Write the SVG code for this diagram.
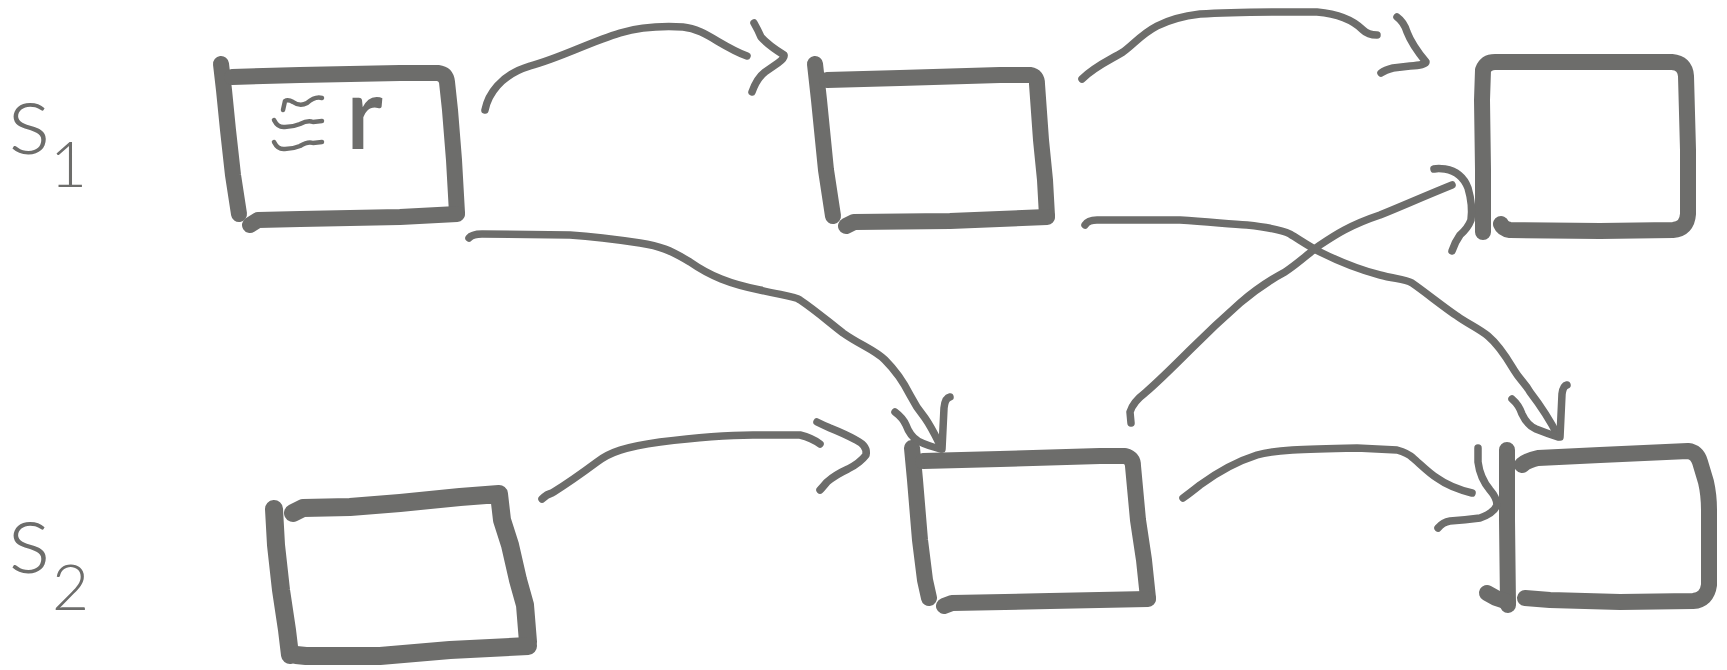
<svg xmlns="http://www.w3.org/2000/svg" width="1727" height="670" viewBox="0 0 1727 670">
<style>
.bx{fill:none;stroke:#6d6d6b;stroke-width:16;stroke-linecap:round;stroke-linejoin:round}
.bxd{fill:none;stroke:#6d6d6b;stroke-width:18;stroke-linecap:round;stroke-linejoin:round}
.cn{fill:none;stroke:#6d6d6b;stroke-width:7.5;stroke-linecap:round;stroke-linejoin:round}
.sq{fill:none;stroke:#6d6d6b;stroke-width:4.5;stroke-linecap:round;stroke-linejoin:round}
.lbl{font-family:Lato,"Open Sans","DejaVu Sans",sans-serif;font-weight:300;fill:#6d6d6b}
.tx{font-family:Lato,"Open Sans","DejaVu Sans",sans-serif;font-weight:600;fill:#6d6d6b}
</style>
<rect width="1727" height="670" fill="#ffffff"/>
<g id="label-s1"><text class="lbl" x="8" y="154" font-size="100">s<tspan x="50" y="187" font-size="64">1</tspan></text></g>
<g id="label-s2"><text class="lbl" x="8" y="573" font-size="100">s<tspan x="52" y="610" font-size="64">2</tspan></text></g>
<g id="node-a">
<path class="bx" d="M221,64 L224,90 L228,130 L233,175 L239,214"/>
<path class="bx" d="M232,77 L300,75 L400,73 L438,73 Q446,74 447,82 L450,110 L454,160 L457,213"/>
<path class="bx" d="M250,225 L258,220 L300,219 L400,217 L457,214"/>
<path class="sq" d="M283,110 L285,101 Q288,99 293,102 Q300,107 307,103 Q315,96 322,98"/>
<path class="sq" d="M274,120 Q278,128 285,127 Q293,127 300,124 Q308,120 313,122 L322,121"/>
<path class="sq" d="M274,142 Q278,150 285,149 Q293,149 300,146 Q308,141 313,143 L322,142"/>
<text class="tx" x="346" y="149" font-size="100">r</text>
</g>
<g id="node-b">
<path class="bx" d="M815,64 L819,100 L826,170 L833,216"/>
<path class="bx" d="M827,80 L900,78 L1000,75 L1030,75 Q1037,76 1037,84 L1041,140 L1045,180 L1047,216"/>
<path class="bx" d="M846,226 L854,222 L950,221 L1047,217"/>
</g>
<g id="node-c">
<path class="bx" d="M1483,232 L1483,170 L1482,100 L1483,70 Q1486,62 1495,62 L1600,62 L1672,62 Q1685,63 1686,76 L1688,150 L1688,214 Q1687,229 1673,230 L1600,231 L1510,230 Q1503,229 1501,224"/>
</g>
<g id="node-d">
<path class="bxd" d="M274,509 L276,545 L281,590 L287,630 L290,655"/>
<path class="bxd" d="M293,513 L303,508 L350,507 L400,503 L460,497 L499,494 L502,520 L510,545 L518,580 L525,605 L528,642"/>
<path class="bxd" d="M296,655 L306,656 L380,656 L450,650 L528,646"/>
</g>
<g id="node-e">
<path class="bx" d="M912,448 L915,480 L920,540 L925,580 L929,598"/>
<path class="bx" d="M923,461 L1000,459 L1100,456 L1125,456 Q1133,458 1133,466 L1138,520 L1144,560 L1148,598"/>
<path class="bx" d="M944,606 L952,603 L1050,601 L1148,599"/>
</g>
<g id="node-f">
<path class="bx" d="M1507,450 L1507,520 L1508,605"/>
<path class="bx" d="M1522,465 Q1528,460 1538,458 L1600,455 L1688,451 Q1697,452 1700,462 L1706,482 Q1709,495 1709,510 L1709,585 Q1707,600 1693,601 L1620,602 L1550,600 L1525,598"/>
<path class="bx" d="M1487,593 L1496,598 L1508,602"/>
</g>
<g id="connectors">
<path class="cn" d="M485,110 C488,95 500,75 530,66 C560,58 590,42 620,33 C640,27 665,26 683,27 C705,29 720,46 747,56"/>
<path class="cn" d="M754,23 Q758,30 761,37 Q768,45 784,55 Q785,58 778,63 L765,72 Q757,78 752,92"/>
<path class="cn" d="M1082,79 C1095,66 1110,60 1123,52 C1140,40 1150,20 1200,14 C1240,11 1290,12 1317,12 C1340,14 1355,22 1363,30 C1367,34 1372,35 1377,35"/>
<path class="cn" d="M1397,17 Q1404,22 1407,32 Q1412,45 1426,62 Q1426,65 1410,66 L1393,68 Q1385,70 1381,73"/>
<path class="cn" d="M469,238 Q472,234 482,234 L570,235 C600,237 620,240 640,243 C660,246 670,250 690,262 C710,276 730,284 760,290 C780,295 795,296 800,300 C815,310 830,323 843,333 C860,345 875,350 885,360 C895,370 905,385 910,395 C915,405 920,412 925,418 C932,428 936,437 941,447"/>
<path class="cn" d="M895,412 Q903,418 906,425 Q910,436 918,441 Q928,446 941,449"/>
<path class="cn" d="M950,397 Q945,398 944,408 L942,449"/>
<path class="cn" d="M1085,225 Q1088,220 1097,220 L1180,220 C1210,222 1230,224 1247,225 C1265,227 1280,229 1290,234 C1300,240 1310,247 1320,252 C1340,262 1360,270 1380,275 C1395,279 1405,279 1412,283 C1425,292 1445,308 1457,316 C1468,324 1478,328 1488,336 C1500,346 1508,360 1514,370 C1520,380 1525,383 1530,392 C1540,405 1550,420 1558,436"/>
<path class="cn" d="M1512,399 Q1519,405 1522,414 Q1527,425 1536,429 Q1546,433 1558,437"/>
<path class="cn" d="M1567,385 Q1563,386 1562,394 L1560,437"/>
<path class="cn" d="M1131,423 L1130,412 Q1133,402 1145,393 C1160,380 1175,365 1190,350 C1205,335 1215,325 1240,303 C1255,290 1270,280 1285,272 C1300,262 1310,252 1320,245 C1335,235 1350,225 1380,215 C1400,207 1420,198 1452,185"/>
<path class="cn" d="M1434,169 Q1438,168 1445,169 Q1462,172 1468,188 Q1473,205 1471,220 Q1468,228 1460,235 Q1455,242 1452,251"/>
<path class="cn" d="M542,499 Q547,494 552,493 C560,488 570,482 597,462 C610,452 625,447 660,442 C700,437 730,435 753,435 L800,435 Q812,438 820,444"/>
<path class="cn" d="M817,422 Q823,425 830,428 Q845,434 856,440 Q868,446 866,455 Q860,463 848,469 Q835,475 827,482 Q822,488 820,490"/>
<path class="cn" d="M1183,498 Q1190,493 1200,485 C1215,474 1235,462 1257,455 C1275,450 1300,449 1357,448 L1397,450 Q1408,453 1413,458 C1420,464 1430,474 1437,478 C1448,486 1460,490 1472,493"/>
<path class="cn" d="M1478,448 L1478,462 Q1480,478 1490,490 Q1497,498 1497,505 Q1494,513 1480,518 Q1465,520 1450,521 Q1443,522 1438,528"/>
</g>
</svg>
